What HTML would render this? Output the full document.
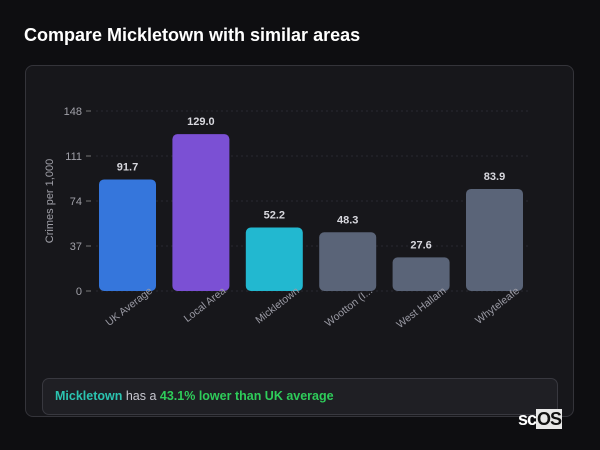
<!DOCTYPE html>
<html><head><meta charset="utf-8"><style>
body{margin:0;width:600px;height:450px;background:#0e0e11;font-family:"Liberation Sans","DejaVu Sans",sans-serif;overflow:hidden;position:relative}
#title{position:absolute;left:24px;top:25px;color:#fff;font-size:18px;font-weight:bold;margin:0}
#card{position:absolute;left:25px;top:65px;width:549px;height:352px;background:#17171b;border:1px solid #34343a;border-radius:8px;box-sizing:border-box}
#note{position:absolute;left:42px;top:378px;width:516px;height:37px;background:#1f1f24;border:1px solid #38383f;border-radius:7px;box-sizing:border-box;color:#c8c8d0;font-size:12.5px;line-height:35px;padding-left:12px}
#note b.t{color:#2bc4b0}#note b.g{color:#2ecc5a}
#logo{position:absolute;left:518px;top:409px;font-size:18px;font-weight:bold;color:#fff;letter-spacing:-1px}
#logo span{background:#e8e8e8;color:#111;padding:0 1px}
svg{position:absolute;left:0;top:0}
</style></head><body>
<h1 id="title">Compare Mickletown with similar areas</h1>
<div id="card"></div>
<svg id="chart" width="600" height="450"></svg>
<div id="note"><b class="t">Mickletown</b> has a <b class="g">43.1% lower than UK average</b></div>
<div id="logo">sc<span>OS</span></div>
<script>
const categories=["UK Average","Local Area","Mickletown","Wootton (I...","West Hallam","Whyteleafe"];
const values=[91.7,129.0,52.2,48.3,27.6,83.9];
const colors=["#3576dc","#7b50d4","#22b8d0","#5a6478","#5a6478","#5a6478"];
const ticks=[0,37,74,111,148];
const NS="http://www.w3.org/2000/svg";
const svg=document.getElementById("chart");
const y0=291,yTop=111,yMax=148;
const y=v=>y0-(v/yMax)*(y0-yTop);
const step=73.4,x0=99,bw=57;
const x=i=>x0+i*step;
function el(t,a){const e=document.createElementNS(NS,t);for(const k in a)e.setAttribute(k,a[k]);svg.appendChild(e);return e;}
ticks.forEach(t=>{
 const g=el("line",{x1:96,x2:530,y1:y(t),y2:y(t),stroke:"#2a2a30","stroke-dasharray":"2,3"});
 
 
 const tk=el("line",{x1:86,x2:91,y1:y(t),y2:y(t),stroke:"#777"});
 
 
 const l=el("text",{x:82,y:y(t)+4,"text-anchor":"end",fill:"#a0a0a8","font-size":"11"});
 l.textContent=t;
 
 
});
const yt=el("text",{x:0,y:0,transform:"translate(53,201) rotate(-90)","text-anchor":"middle",fill:"#a0a0a8","font-size":"11"});
yt.textContent="Crimes per 1,000";


values.forEach((v,i)=>{
 const h=y0-y(v);
 const b=el("rect",{x:x(i),y:y(v),width:bw,height:h,rx:5,fill:colors[i]});
 
 
 const t=el("text",{x:x(i)+bw/2,y:y(v)-9,"text-anchor":"middle",fill:"#d8d8de","font-size":"11","font-weight":"bold"});
 t.textContent=v.toFixed(1);
 
 
 const c=el("text",{x:0,y:0,transform:`translate(${x(i)+bw-3},${y0+1}) rotate(-38)`,"text-anchor":"end",fill:"#9a9aa4","font-size":"10.5"});
 c.textContent=categories[i];
 
 
});
</script>
</body></html>
